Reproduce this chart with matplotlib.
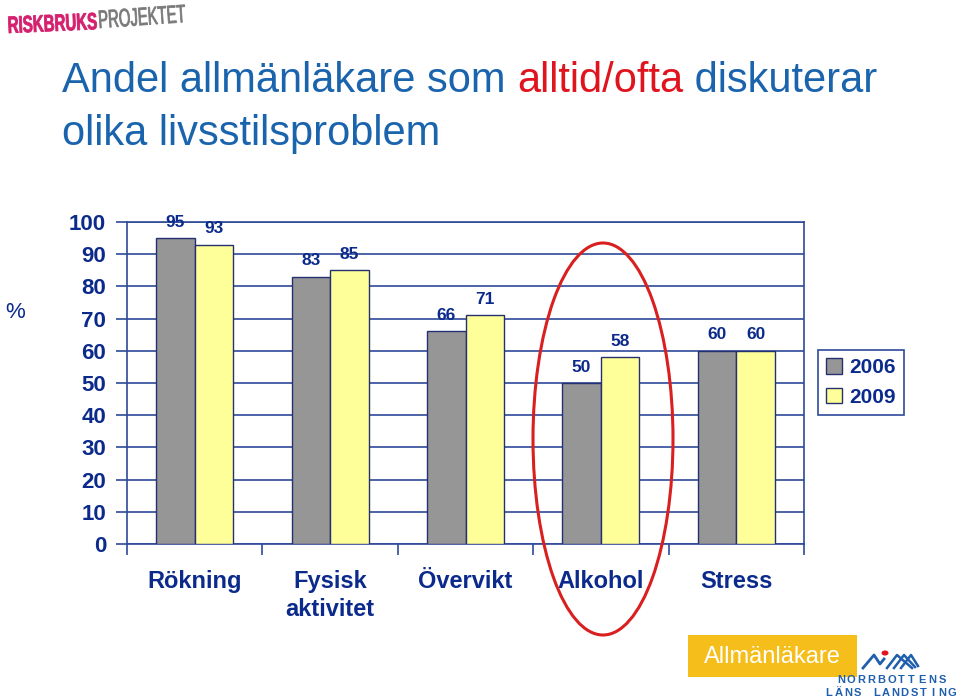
import matplotlib
matplotlib.use("Agg")
import matplotlib.pyplot as plt
from matplotlib.patches import Ellipse, Rectangle, Circle, PathPatch
from matplotlib.textpath import TextPath
from matplotlib.font_manager import FontProperties
from matplotlib.transforms import Affine2D
import numpy as np

categories = ["Rökning", "Fysisk\naktivitet", "Övervikt", "Alkohol", "Stress"]
series_names = ["2006", "2009"]
values_2006 = [95, 83, 66, 50, 60]
values_2009 = [93, 85, 71, 58, 60]
yticks = [0, 10, 20, 30, 40, 50, 60, 70, 80, 90, 100]

NAVY = "#0B2A8C"
LINE = "#2E4A9A"
GRAY = "#969696"
YELLOW = "#FFFF99"
TITLE_BLUE = "#1A64AE"
RED = "#E0141E"

plt.rcParams['font.family'] = ['Liberation Sans', 'DejaVu Sans']

fig = plt.figure(figsize=(9.6, 7.0), dpi=100)
W, H = 960, 700

def fx(px):
    return px / W

def fy(py):
    return 1 - py / H

ax = fig.add_axes([fx(127), fy(544), fx(804) - fx(127), fy(222) - fy(544)])

x = np.arange(len(categories)) + 0.5
bw = 0.285
b1 = ax.bar(x - bw / 2, values_2006, bw, color=GRAY, edgecolor="#243070", linewidth=1, label=series_names[0], zorder=3)
b2 = ax.bar(x + bw / 2, values_2009, bw, color=YELLOW, edgecolor="#243070", linewidth=1, label=series_names[1], zorder=3)

for bars in (b1, b2):
    ax.bar_label(bars, padding=6, fontsize=12.5, fontweight='bold', color=NAVY)

ax.set_xlim(0, len(categories))
ax.set_ylim(0, 100)
ax.set_yticks(yticks)
ax.set_yticklabels([str(v) for v in yticks])
ax.yaxis.grid(True, color=LINE, linewidth=1.2)
ax.set_axisbelow(True)

ax.set_xticks(np.arange(len(categories) + 1))
ax.set_xticklabels([])
ax.set_xticks(x, minor=True)
ax.set_xticklabels(categories, minor=True, fontsize=17, fontweight='bold', color=NAVY, linespacing=1.25)
ax.tick_params(axis='x', which='minor', length=0, pad=19)
ax.tick_params(axis='x', which='major', length=8, width=1.2, color=LINE, direction='out')
ax.tick_params(axis='y', length=8, width=1.2, color=LINE, pad=7, labelsize=16, labelcolor=NAVY)
for lab in ax.get_yticklabels():
    lab.set_fontweight('bold')
for s in ax.spines.values():
    s.set_color(LINE)
    s.set_linewidth(1.2)

leg = fig.legend(handles=[b1, b2], labels=series_names, loc='upper left',
                 bbox_to_anchor=(fx(818), fy(350)), bbox_transform=fig.transFigure,
                 borderaxespad=0, frameon=True, fancybox=False, framealpha=1,
                 edgecolor=LINE, handlelength=0.75, handleheight=0.75, handletextpad=0.35,
                 borderpad=0.4, labelspacing=0.5,
                 prop={'size': 15, 'weight': 'bold'})
for t in leg.get_texts():
    t.set_color(NAVY)
leg.get_frame().set_linewidth(1.2)

# Title (two lines, with highlighted word)
TS = 30
t1 = fig.text(fx(62), fy(92), "Andel allmänläkare som ", fontsize=TS, color=TITLE_BLUE, va='baseline', ha='left')
fig.canvas.draw()
r = fig.canvas.get_renderer()
bb = t1.get_window_extent(renderer=r)
t2 = fig.text(bb.x1 / W, fy(92), "alltid/ofta", fontsize=TS, color=RED, va='baseline', ha='left')
bb2 = t2.get_window_extent(renderer=r)
fig.text(bb2.x1 / W, fy(92), " diskuterar", fontsize=TS, color=TITLE_BLUE, va='baseline', ha='left')
fig.text(fx(62), fy(145), "olika livsstilsproblem", fontsize=TS, color=TITLE_BLUE, va='baseline', ha='left')

fig.text(fx(15), fy(312), "%", fontsize=16, color=NAVY, ha='center', va='center')

# Red ellipse highlighting Alkohol
ell = Ellipse((fx(603), fy(439)), fx(140), 392 / H, transform=fig.transFigure,
              fill=False, edgecolor="#D91F1F", linewidth=2.2, zorder=10)
fig.patches.append(ell)

# Top-left logo text drawn as condensed text paths (pixel coordinates)
pix = Affine2D().scale(1 / W, 1 / H) + fig.transFigure

def logo_word(word, x0, ybase, width, cap, angle, color, weight):
    tp = TextPath((0, 0), word, size=1, prop=FontProperties(family='Liberation Sans', weight=weight))
    ext = tp.get_extents()
    sx = width / ext.width
    sy = cap / 0.716
    tr = Affine2D().translate(-ext.x0, 0).scale(sx, sy).rotate_deg(angle).translate(x0, H - ybase)
    fig.patches.append(PathPatch(tp, transform=tr + pix, facecolor=color, edgecolor=color, linewidth=0.6))

logo_word("RISKBRUKS", 9, 33, 88, 17, 2.5, "#D4206E", 'bold')
logo_word("PROJEKTET", 100, 28, 86, 18, 4, "#7A7A7A", 'normal')

# Bottom-right badge
fig.patches.append(Rectangle((fx(688), fy(677)), fx(857) - fx(688), (677 - 635) / H,
                             transform=fig.transFigure, facecolor="#F6BE1A", edgecolor='none'))
fig.text(fx(772), fy(657), "Allmänläkare", fontsize=17, color='white', ha='center', va='center')

# Norrbotten logo (simple drawing)
fig.lines.append(plt.Line2D([fx(863), fx(874), fx(880), fx(884)], [fy(668), fy(655), fy(664), fy(659)],
                            transform=fig.transFigure, color="#1F5FAE", linewidth=2))
for i in range(3):
    fig.lines.append(plt.Line2D([fx(887 + 7 * i), fx(897 + 7 * i), fx(912 + 3 * i)],
                                [fy(668), fy(655), fy(668 - i)],
                                transform=fig.transFigure, color="#1F5FAE", linewidth=1.8))
fig.patches.append(Circle((fx(885), fy(653)), 3.5 / W, transform=fig.transFigure,
                          facecolor="#E0141E", edgecolor='none'))

def spaced(text, x0, x1, ypx, size):
    n = len(text)
    for i, ch in enumerate(text):
        xx = x0 + (x1 - x0) * i / (n - 1)
        fig.text(fx(xx), fy(ypx), ch, fontsize=size, fontweight='bold', color="#1F5FAE",
                 ha='center', va='center')

spaced("NORRBOTTENS", 841, 942, 680, 8)
spaced("LÄNS LANDSTING", 829, 952, 693, 8)

fig.savefig("out.png", dpi=100)
